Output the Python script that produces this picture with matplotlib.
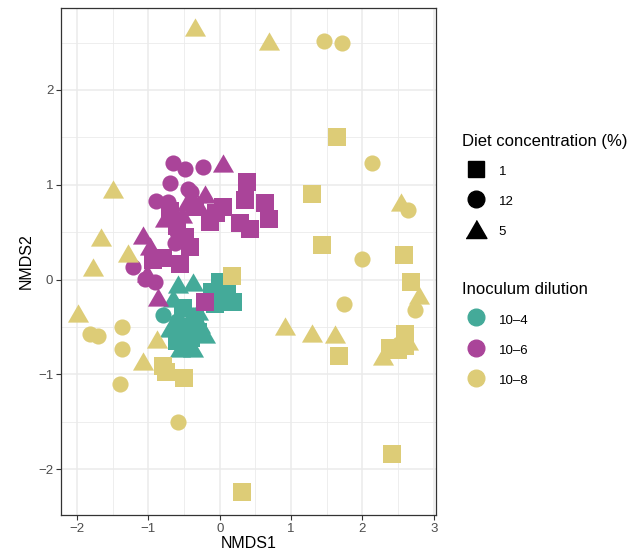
import numpy as np
import matplotlib.pyplot as plt
from matplotlib.lines import Line2D

plt.rcParams['font.family'] = ['Liberation Sans', 'DejaVu Sans']

# colours for inoculum dilution
dil_labels = ["10\u20134", "10\u20136", "10\u20138"]
dil_colors = ["#44AA99", "#AA4499", "#DDCC77"]
diet_labels = ["1", "12", "5"]

# 10-4 points
teal_sq_x = [0.00, -0.11, 0.10, 0.18, -0.07, -0.52, -0.35, -0.31, -0.60, -0.45, -0.40]
teal_sq_y = [-0.03, -0.13, -0.11, -0.24, -0.26, -0.30, -0.40, -0.55, -0.65, -0.50, -0.62]
teal_ci_x = [-0.80, -0.60, -0.38, -0.52, -0.45]
teal_ci_y = [-0.37, -0.44, -0.37, -0.51, -0.58]
teal_tr_x = [-0.38, -0.59, -0.66, -0.52, -0.70, -0.56, -0.21, -0.38, -0.56, -0.28, -0.45, -0.30]
teal_tr_y = [-0.03, -0.05, -0.19, -0.30, -0.51, -0.60, -0.58, -0.72, -0.72, -0.47, -0.70, -0.33]

# 10-6 points
purp_sq_x = [0.38, 0.35, 0.63, 0.69, 0.28, 0.42, 0.04, -0.14, -0.42, -0.60, -0.80, -0.56, -0.94,
             -0.70, -0.35, -0.21, -0.48, -0.05]
purp_sq_y = [1.03, 0.84, 0.81, 0.64, 0.60, 0.53, 0.76, 0.61, 0.34, 0.56, 0.23, 0.16, 0.21,
             0.72, 0.76, -0.24, 0.45, 0.70]
purp_ci_x = [-0.66, -0.48, -0.24, -0.70, -0.45, -0.90, -0.73, -0.40, -0.63, -1.22, -1.05, -0.91, -0.60]
purp_ci_y = [1.23, 1.17, 1.19, 1.02, 0.96, 0.83, 0.82, 0.92, 0.39, 0.13, 0.01, -0.03, 0.50]
purp_tr_x = [0.04, -0.21, -0.46, -1.08, -0.98, -0.77, -0.53, -0.87, -0.70, -1.02, -0.30]
purp_tr_y = [1.23, 0.90, 0.82, 0.47, 0.35, 0.65, 0.69, -0.18, 0.67, 0.07, 0.80]

# 10-8 points
yel_sq_x = [1.64, 1.29, 1.44, 2.58, 2.68, 0.17, 1.67, 2.59, 2.38, 2.60, 2.50, -0.80, -0.76, -0.50,
            2.41, 0.31]
yel_sq_y = [1.50, 0.90, 0.36, 0.26, -0.03, 0.04, -0.81, -0.58, -0.72, -0.70, -0.74, -0.91, -0.98,
            -1.04, -1.84, -2.24]
yel_ci_x = [1.46, 1.71, 2.13, 2.64, 1.99, 1.74, 2.73, 2.41, 2.51, -1.82, -1.71, -1.37, -1.37,
            -1.40, -0.59]
yel_ci_y = [2.52, 2.50, 1.23, 0.73, 0.22, -0.26, -0.32, -0.71, -0.68, -0.57, -0.60, -0.50, -0.73,
            -1.10, -1.50]
yel_tr_x = [-0.35, 0.69, -1.49, -1.67, -1.78, -1.29, -1.99, -0.88, -1.07, 0.91, 1.30, 1.61, 2.79,
            2.29, 2.54, 2.64]
yel_tr_y = [2.66, 2.52, 0.95, 0.45, 0.13, 0.28, -0.35, -0.63, -0.86, -0.49, -0.56, -0.58, -0.16,
            -0.81, 0.82, -0.65]

tri = [(-1, -0.866), (1, -0.866), (0, 0.866)]
shapes = ['s', 'o', tri]
sizes = [150, 135, 230]

groups = [
    [(teal_sq_x, teal_sq_y), (teal_ci_x, teal_ci_y), (teal_tr_x, teal_tr_y)],
    [(purp_sq_x, purp_sq_y), (purp_ci_x, purp_ci_y), (purp_tr_x, purp_tr_y)],
    [(yel_sq_x, yel_sq_y), (yel_ci_x, yel_ci_y), (yel_tr_x, yel_tr_y)],
]

fig = plt.figure(figsize=(6.42, 5.57), dpi=100)
ax = fig.add_axes([0.095, 0.0754, 0.584, 0.9102])

for ci, grp in enumerate(groups):
    for si, (gx, gy) in enumerate(grp):
        ax.scatter(gx, gy, marker=shapes[si], s=sizes[si], color=dil_colors[ci],
                   linewidths=0, zorder=3)

ax.set_xlim(-2.225, 3.03)
ax.set_ylim(-2.485, 2.865)
ax.set_xticks([-2, -1, 0, 1, 2, 3])
ax.set_yticks([-2, -1, 0, 1, 2])
ax.set_xticks(np.arange(-1.5, 3, 1), minor=True)
ax.set_yticks(np.arange(-1.5, 3, 1), minor=True)
ax.set_xticklabels(["\u22122", "\u22121", "0", "1", "2", "3"])
ax.set_yticklabels(["\u22122", "\u22121", "0", "1", "2"])
ax.grid(True, which='major', color='#EBEBEB', linewidth=1.1, zorder=0)
ax.grid(True, which='minor', color='#EBEBEB', linewidth=0.6, zorder=0)
ax.set_axisbelow(True)
ax.tick_params(which='major', length=3.5, width=0.8, color='#333333', labelcolor='#4D4D4D',
               labelsize=9.5, pad=2)
ax.tick_params(which='minor', length=0)
for sp in ax.spines.values():
    sp.set_color('#333333')
    sp.set_linewidth(0.9)
ax.set_xlabel("NMDS1", fontsize=11.5, labelpad=1)
ax.set_ylabel("NMDS2", fontsize=11.5, labelpad=3)

leg_kw = dict(frameon=False, loc='upper left', borderpad=0, fontsize=9.5,
              title_fontsize=12, alignment='left', handlelength=2.1,
              handletextpad=0.7, handleheight=1.5, labelspacing=1.06)

diet_handles = [
    Line2D([], [], linestyle='none', marker='s', markersize=12, color='black'),
    Line2D([], [], linestyle='none', marker='o', markersize=12, color='black'),
    Line2D([], [], linestyle='none', marker=tri, markersize=15, color='black'),
]
leg1 = fig.legend(diet_handles, diet_labels, title="Diet concentration (%)",
                  bbox_to_anchor=(0.709, 0.772), **leg_kw)
dil_handles = [Line2D([], [], linestyle='none', marker='o', markersize=12, color=c)
               for c in dil_colors]
leg2 = fig.legend(dil_handles, dil_labels, title="Inoculum dilution",
                  bbox_to_anchor=(0.709, 0.505), **leg_kw)

fig.savefig("out.png", dpi=100)
